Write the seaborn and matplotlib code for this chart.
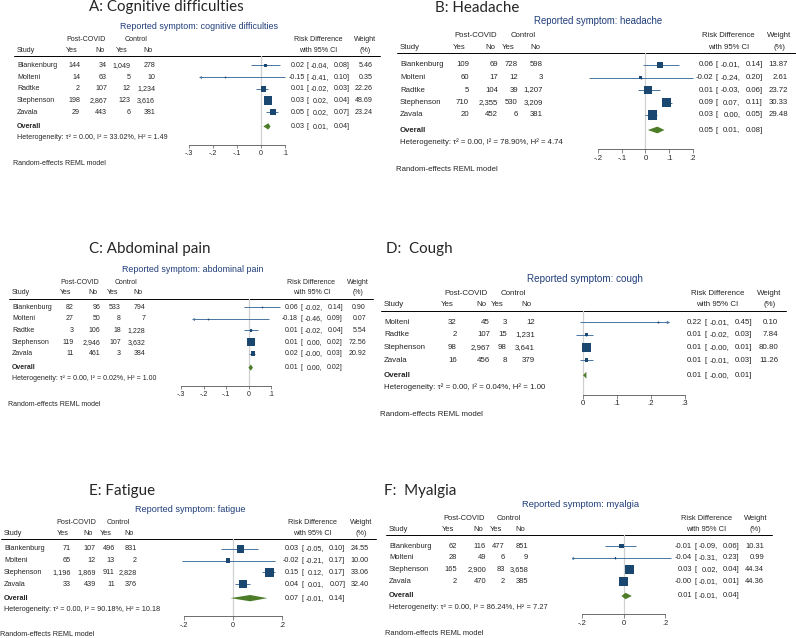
import matplotlib
matplotlib.use("Agg")
import matplotlib.pyplot as plt
import seaborn as sns
import numpy as np
import pandas as pd

sns.set_style("white")
plt.rcParams['font.family'] = ['Liberation Sans', 'DejaVu Sans']

# ------------------------------------------------------------------
# A: cognitive difficulties
cog_study = ["Blankenburg", "Molteni", "Radtke", "Stephenson", "Zavala"]
cog_covid_yes = [144, 14, 2, 198, 29]
cog_covid_no = [34, 63, 107, 2867, 443]
cog_ctrl_yes = [1049, 5, 12, 123, 6]
cog_ctrl_no = [278, 10, 1234, 3616, 381]
cog_rd = [0.02, -0.15, 0.01, 0.03, 0.05]
cog_lo = [-0.04, -0.41, -0.02, 0.02, 0.02]
cog_hi = [0.08, 0.10, 0.03, 0.04, 0.07]
cog_wt = [5.46, 0.35, 22.26, 48.69, 23.24]
cog_overall = [0.03, 0.01, 0.04]
cog_het = [0.00, 33.02, 1.49]
cog_ticks = [-0.3, -0.2, -0.1, 0, 0.1]

# B: headache
head_study = ["Blankenburg", "Molteni", "Radtke", "Stephenson", "Zavala"]
head_covid_yes = [109, 60, 5, 710, 20]
head_covid_no = [69, 17, 104, 2355, 452]
head_ctrl_yes = [728, 12, 39, 530, 6]
head_ctrl_no = [598, 3, 1207, 3209, 381]
head_rd = [0.06, -0.02, 0.01, 0.09, 0.03]
head_lo = [-0.01, -0.24, -0.03, 0.07, 0.00]
head_hi = [0.14, 0.20, 0.06, 0.11, 0.05]
head_wt = [13.87, 2.61, 23.72, 30.33, 29.48]
head_overall = [0.05, 0.01, 0.08]
head_het = [0.00, 78.90, 4.74]
head_ticks = [-0.2, -0.1, 0, 0.1, 0.2]

# C: abdominal pain
abd_study = ["Blankenburg", "Molteni", "Radtke", "Stephenson", "Zavala"]
abd_covid_yes = [82, 27, 3, 119, 11]
abd_covid_no = [96, 50, 106, 2946, 461]
abd_ctrl_yes = [533, 8, 18, 107, 3]
abd_ctrl_no = [794, 7, 1228, 3632, 384]
abd_rd = [0.06, -0.18, 0.01, 0.01, 0.02]
abd_lo = [-0.02, -0.46, -0.02, 0.00, -0.00]
abd_hi = [0.14, 0.09, 0.04, 0.02, 0.03]
abd_wt = [0.90, 0.07, 5.54, 72.56, 20.92]
abd_overall = [0.01, 0.00, 0.02]
abd_het = [0.00, 0.02, 1.00]
abd_ticks = [-0.3, -0.2, -0.1, 0, 0.1]

# D: cough
cough_study = ["Molteni", "Radtke", "Stephenson", "Zavala"]
cough_covid_yes = [32, 2, 98, 16]
cough_covid_no = [45, 107, 2967, 456]
cough_ctrl_yes = [3, 15, 98, 8]
cough_ctrl_no = [12, 1231, 3641, 379]
cough_rd = [0.22, 0.01, 0.01, 0.01]
cough_lo = [-0.01, -0.02, -0.00, -0.01]
cough_hi = [0.45, 0.03, 0.01, 0.03]
cough_wt = [0.10, 7.84, 80.80, 11.26]
cough_overall = [0.01, -0.00, 0.01]
cough_het = [0.00, 0.04, 1.00]
cough_ticks = [0, 0.1, 0.2, 0.3]

# E: fatigue
fat_study = ["Blankenburg", "Molteni", "Stephenson", "Zavala"]
fat_covid_yes = [71, 65, 1196, 33]
fat_covid_no = [107, 12, 1869, 439]
fat_ctrl_yes = [496, 13, 911, 11]
fat_ctrl_no = [831, 2, 2828, 376]
fat_rd = [0.03, -0.02, 0.15, 0.04]
fat_lo = [-0.05, -0.21, 0.12, 0.01]
fat_hi = [0.10, 0.17, 0.17, 0.07]
fat_wt = [24.55, 10.00, 33.06, 32.40]
fat_overall = [0.07, -0.01, 0.14]
fat_het = [0.00, 90.18, 10.18]
fat_ticks = [-0.2, 0, 0.2]

# F: myalgia
mya_study = ["Blankenburg", "Molteni", "Stephenson", "Zavala"]
mya_covid_yes = [62, 28, 165, 2]
mya_covid_no = [116, 49, 2900, 470]
mya_ctrl_yes = [477, 6, 83, 2]
mya_ctrl_no = [851, 9, 3658, 385]
mya_rd = [-0.01, -0.04, 0.03, -0.00]
mya_lo = [-0.09, -0.31, 0.02, -0.01]
mya_hi = [0.06, 0.23, 0.04, 0.01]
mya_wt = [10.31, 0.99, 44.34, 44.36]
mya_overall = [0.01, -0.01, 0.04]
mya_het = [0.00, 86.24, 7.27]
mya_ticks = [-0.2, 0, 0.2]

# ------------------------------------------------------------------
NAVY = "#1a476f"
CI_COL = "#4a75a3"
GREEN = "#4e7d2a"
ZERO = "#d0d0d0"
SUB = "#1f3d7a"

panels = [
    dict(title="A: Cognitive difficulties", symptom="cognitive difficulties",
         data=(cog_study, cog_covid_yes, cog_covid_no, cog_ctrl_yes, cog_ctrl_no,
               cog_rd, cog_lo, cog_hi, cog_wt, cog_overall, cog_het, cog_ticks),
         x0=17, W=356, title_xy=(166, 11.5), rule=56, row1=65.3, s=11.75,
         tick_px=(189, 285), clip=(-0.255, 0.13), cols=(.177, .253, .320, .388)),
    dict(title="B: Headache", symptom="headache",
         data=(head_study, head_covid_yes, head_covid_no, head_ctrl_yes, head_ctrl_no,
               head_rd, head_lo, head_hi, head_wt, head_overall, head_het, head_ticks),
         x0=400, W=388, title_xy=(477, 11.5), rule=53.3, row1=65, s=12.5,
         tick_px=(598, 693), clip=(-0.3, 0.25), cols=(.178, .253, .304, .369)),
    dict(title="C: Abdominal pain", symptom="abdominal pain",
         data=(abd_study, abd_covid_yes, abd_covid_no, abd_ctrl_yes, abd_ctrl_no,
               abd_rd, abd_lo, abd_hi, abd_wt, abd_overall, abd_het, abd_ticks),
         x0=12, W=354, title_xy=(150, 253.5), rule=298.7, row1=307.3, s=11.6,
         tick_px=(181, 271), clip=(-0.245, 0.15), cols=(.175, .249, .308, .376)),
    dict(title="D:  Cough", symptom="cough",
         data=(cough_study, cough_covid_yes, cough_covid_no, cough_ctrl_yes, cough_ctrl_no,
               cough_rd, cough_lo, cough_hi, cough_wt, cough_overall, cough_het, cough_ticks),
         x0=384, W=394, title_xy=(419, 253.5), rule=311, row1=322.3, s=12.6,
         tick_px=(583, 685), clip=(-0.02, 0.25), cols=(.185, .269, .312, .383)),
    dict(title="E: Fatigue", symptom="fatigue",
         data=(fat_study, fat_covid_yes, fat_covid_no, fat_ctrl_yes, fat_ctrl_no,
               fat_rd, fat_lo, fat_hi, fat_wt, fat_overall, fat_het, fat_ticks),
         x0=4, W=365, title_xy=(122, 494.5), rule=539, row1=549, s=11.7,
         tick_px=(184, 282), clip=(-0.25, 0.22), cols=(.184, .252, .304, .364)),
    dict(title="F:  Myalgia", symptom="myalgia",
         data=(mya_study, mya_covid_yes, mya_covid_no, mya_ctrl_yes, mya_ctrl_no,
               mya_rd, mya_lo, mya_hi, mya_wt, mya_overall, mya_het, mya_ticks),
         x0=389, W=375, title_xy=(420, 494.5), rule=535, row1=546, s=11.9,
         tick_px=(582, 665), clip=(-0.25, 0.25), cols=(.181, .259, .309, .371)),
]


def tick_label(v):
    if abs(v) < 1e-9:
        return "0"
    return f"{v:.1f}".replace("0.", ".")


fig = plt.figure(figsize=(7.96, 6.38), dpi=100)
bg = fig.add_axes([0, 0, 1, 1])
bg.set_xlim(0, 796)
bg.set_ylim(638, 0)
bg.axis('off')

for p in panels:
    study, cy, cn, ky, kn, rd, lo, hi, wt, ov, het, ticks = p['data']
    x0, W, s, rule = p['x0'], p['W'], p['s'], p['rule']
    k = W / 356
    fs = 5.1 * k

    def X(u):
        return x0 + u * W

    n = len(study)
    rows = [p['row1'] + i * s for i in range(n)]
    y_over = rows[-1] + 1.2 * s
    y_het = y_over + 0.95 * s
    y_axis = y_het + 0.6 * s
    y_reml = y_axis + 1.6 * s
    y_h2 = rule - 0.5 * s
    y_h1 = y_h2 - 0.9 * s
    y_sub = y_h1 - 1.15 * s
    cols = p['cols']

    # titles
    bg.text(*p['title_xy'], p['title'], ha='center', va='baseline',
            fontsize=10.9, family=['Lato', 'DejaVu Sans'])
    bg.text(X(0.51), y_sub, "Reported symptom: " + p['symptom'], ha='center',
            va='center', fontsize=6.4 * k, color=SUB)

    # header
    bg.text(X((cols[0] + cols[1]) / 2 - 0.02), y_h1, "Post-COVID", ha='center', va='center', fontsize=fs)
    bg.text(X((cols[2] + cols[3]) / 2 - 0.02), y_h1, "Control", ha='center', va='center', fontsize=fs)
    bg.text(X(0.846), y_h1, "Risk Difference", ha='center', va='center', fontsize=fs)
    bg.text(X(0.978), y_h1, "Weight", ha='center', va='center', fontsize=fs)
    bg.text(X(0), y_h2, "Study", ha='left', va='center', fontsize=fs)
    for c, lab in zip(cols, ["Yes", "No", "Yes", "No"]):
        bg.text(X(c - 0.008), y_h2, lab, ha='right', va='center', fontsize=fs)
    bg.text(X(0.846), y_h2, "with 95% CI", ha='center', va='center', fontsize=fs)
    bg.text(X(0.978), y_h2, "(%)", ha='center', va='center', fontsize=fs)
    bg.plot([X(-0.008), X(1.02)], [rule, rule], color='black', lw=0.7)

    def ci_text(y, e, l, h):
        bg.text(X(0.808), y, f"{e:.2f}", ha='right', va='center', fontsize=fs)
        bg.text(X(0.814), y, "[", ha='left', va='center', fontsize=fs)
        bg.text(X(0.877), y, f"{l:.2f},", ha='right', va='center', fontsize=fs)
        bg.text(X(0.935), y, f"{h:.2f}]", ha='right', va='center', fontsize=fs)

    # study rows
    for i in range(n):
        y = rows[i]
        bg.text(X(0), y, study[i], ha='left', va='center', fontsize=fs)
        for c, v in zip(cols, [cy[i], cn[i], ky[i], kn[i]]):
            bg.text(X(c), y, f"{v:,}", ha='right', va='center', fontsize=fs)
        ci_text(y, rd[i], lo[i], hi[i])
        bg.text(X(1.0), y, f"{wt[i]:.2f}", ha='right', va='center', fontsize=fs)

    bg.text(X(0), y_over, "Overall", ha='left', va='center', fontsize=fs, fontweight='bold')
    ci_text(y_over, *ov)
    bg.text(X(0), y_het,
            f"Heterogeneity: τ² = {het[0]:.2f}, I² = {het[1]:.2f}%, H² = {het[2]:.2f}",
            ha='left', va='center', fontsize=fs)
    bg.text(X(-0.01), y_reml, "Random-effects REML model", ha='left', va='center', fontsize=fs)

    # forest plot area
    tmin, tmax = ticks[0], ticks[-1]
    ppu = (p['tick_px'][1] - p['tick_px'][0]) / (tmax - tmin)
    zero = p['tick_px'][0] - tmin * ppu
    xl = (min(tmin, p['clip'][0]), max(tmax, p['clip'][1]))
    left, right = zero + xl[0] * ppu, zero + xl[1] * ppu
    fax = fig.add_axes([left / 796, 1 - y_axis / 638, (right - left) / 796, (y_axis - rule) / 638])
    fax.patch.set_visible(False)
    fax.set_xlim(xl)
    fax.set_ylim(y_axis, rule)

    fax.axvline(0, color=ZERO, lw=0.9, zorder=0)
    lo_c = np.clip(lo, *p['clip'])
    hi_c = np.clip(hi, *p['clip'])
    fax.hlines(rows, lo_c, hi_c, color=CI_COL, lw=0.7, zorder=1)
    for i in range(n):
        if lo[i] < p['clip'][0]:
            fax.plot(lo_c[i], rows[i], marker='<', ms=2.2 * k, color=CI_COL, mew=0)
        if hi[i] > p['clip'][1]:
            fax.plot(hi_c[i], rows[i], marker='>', ms=2.2 * k, color=CI_COL, mew=0)

    df = pd.DataFrame({'rd': rd, 'y': rows, 'w': wt})
    smax = (6.1 * k) ** 2
    sns.scatterplot(data=df, x='rd', y='y', size='w', sizes=(0, smax),
                    size_norm=(0, max(wt)), marker='s', color=NAVY, linewidth=0,
                    legend=False, ax=fax, zorder=3)
    fax.plot(rd, rows, 'o', ms=1.3 * k, color=NAVY, mew=0, zorder=4)

    h = 0.27 * s
    fax.fill([ov[1], ov[0], ov[2], ov[0]], [y_over, y_over - h, y_over, y_over + h],
             color=GREEN, lw=0, zorder=3)

    fax.set_xlabel('')
    fax.set_ylabel('')
    fax.set_yticks([])
    for side in ['left', 'right', 'top']:
        fax.spines[side].set_visible(False)
    fax.spines['bottom'].set_bounds(tmin, tmax)
    fax.spines['bottom'].set_color('#555555')
    fax.spines['bottom'].set_linewidth(0.6)
    fax.set_xticks(ticks)
    fax.set_xticklabels([tick_label(t) for t in ticks])
    fax.tick_params(axis='x', length=2.5 * k, width=0.5, color='#555555',
                    labelsize=fs, pad=1.2, bottom=True)

fig.savefig("out.png", dpi=100, facecolor='white')
